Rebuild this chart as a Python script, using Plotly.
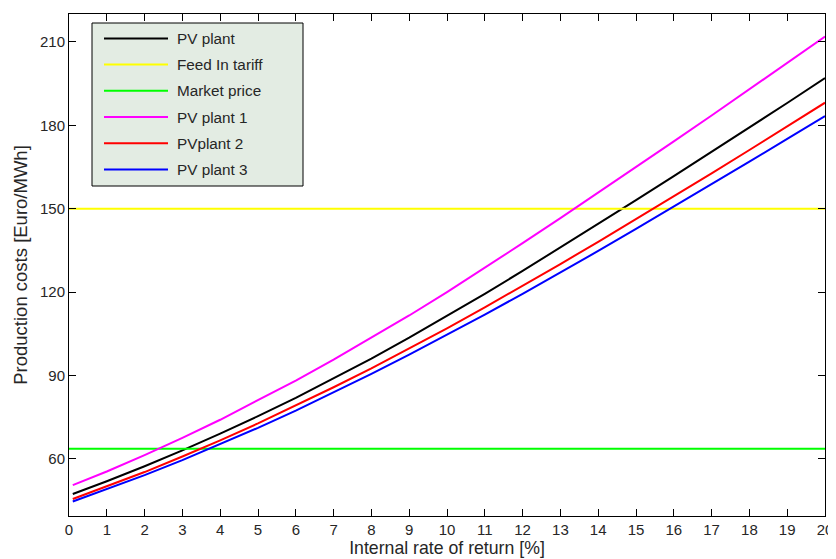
import plotly.graph_objects as go

irr = [0.1, 1, 2, 3, 4, 5, 6, 7, 8, 9, 10, 11, 12, 13, 14, 15, 16, 17, 18, 19, 20]

pv_plant = [47.4, 52.0, 57.4, 63.1, 69.1, 75.4, 82.0, 88.9, 96.1, 103.6, 111.4,
            119.4, 127.6, 136.0, 144.5, 153.1, 161.7, 170.4, 179.2, 188.0, 197.0]
pv_plant_1 = [50.6, 55.5, 61.4, 67.6, 74.1, 81.0, 88.2, 95.7, 103.5, 111.6, 120.0,
              128.7, 137.6, 146.6, 155.7, 164.9, 174.2, 183.5, 192.9, 202.4, 211.9]
pv_plant_2 = [45.6, 50.1, 55.3, 60.9, 66.7, 72.8, 79.2, 85.8, 92.6, 99.7, 107.0,
              114.5, 122.2, 130.1, 138.1, 146.2, 154.4, 162.7, 171.1, 179.5, 188.1]
pv_plant_3 = [44.7, 49.1, 54.2, 59.6, 65.3, 71.2, 77.4, 83.9, 90.6, 97.5, 104.6,
              111.9, 119.4, 127.0, 134.8, 142.7, 150.7, 158.8, 166.9, 175.1, 183.3]

feed_in_tariff = 150.0
market_price = 63.7
x_span = [0, 20]

y_ticks = [60, 90, 120, 150, 180, 210]
x_ticks = list(range(0, 21))

series = [
    ("PV plant", irr, pv_plant, "#000000"),
    ("Feed In tariff", x_span, [feed_in_tariff, feed_in_tariff], "#FFFF00"),
    ("Market price", x_span, [market_price, market_price], "#00FF00"),
    ("PV plant 1", irr, pv_plant_1, "#FF00FF"),
    ("PVplant 2", irr, pv_plant_2, "#FF0000"),
    ("PV plant 3", irr, pv_plant_3, "#0000FF"),
]

# page body has an 8px default margin, so the figure is 8px smaller and offset
OFF = 8
W, H = 836 - OFF, 559 - OFF
ML, MR, MT, MB = 69 - OFF, 11, 14 - OFF, 43
PW, PH = W - ML - MR, H - MT - MB


def px(x):
    return (x - OFF - ML) / PW


def py(y):
    return (H - MB - (y - OFF)) / PH


fig = go.Figure()
for name, xs, ys, col in series:
    fig.add_trace(go.Scatter(x=xs, y=ys, mode="lines", name=name,
                             line=dict(color=col, width=2), showlegend=False))

font_family = "Liberation Sans, Arial, sans-serif"

# Legend box (MATLAB style), drawn with shapes + annotations
shapes = [dict(type="rect", xref="paper", yref="paper",
               x0=px(92), x1=px(303), y0=py(186), y1=py(23),
               fillcolor="#E3ECE3", line=dict(color="black", width=1),
               layer="above")]
annotations = []
row_y = [38.5, 64.5, 90.8, 117.0, 143.3, 169.5]
for (name, xs, ys, col), ry in zip(series, row_y):
    shapes.append(dict(type="line", xref="paper", yref="paper",
                       x0=px(104), x1=px(168), y0=py(ry), y1=py(ry),
                       line=dict(color=col, width=2), layer="above"))
    annotations.append(dict(xref="paper", yref="paper", x=px(175), y=py(ry),
                            text=name, showarrow=False, xanchor="left",
                            yanchor="middle",
                            font=dict(size=15.3, color="#262626")))

fig.update_layout(
    width=W, height=H,
    margin=dict(l=ML, r=MR, t=MT, b=MB),
    paper_bgcolor="white", plot_bgcolor="white",
    font=dict(family=font_family, size=15, color="#262626"),
    showlegend=False,
    shapes=shapes,
    annotations=annotations,
)

fig.update_xaxes(range=[0, 20], tickvals=x_ticks, ticks="inside", ticklen=7,
                 tickcolor="black", showline=True, linecolor="black", linewidth=1,
                 mirror="ticks", showgrid=False, zeroline=False, automargin=False,
                 title=dict(text="Internal rate of return [%]", font=dict(size=17.7), standoff=4))
fig.update_yaxes(range=[39.5, 220], tickvals=y_ticks, ticks="inside", ticklen=7,
                 tickcolor="black", showline=True, linecolor="black", linewidth=1,
                 mirror="ticks", showgrid=False, zeroline=False, automargin=False,
                 title=dict(text="Production costs [Euro/MWh]", font=dict(size=18.5), standoff=7))

fig.write_html("out.html")
